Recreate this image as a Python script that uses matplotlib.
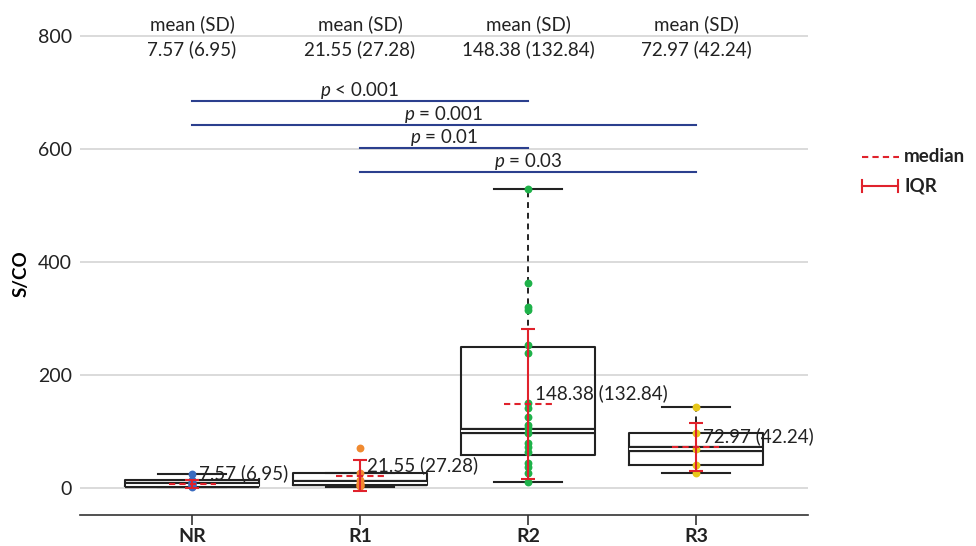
import matplotlib.pyplot as plt
from matplotlib.lines import Line2D

plt.rcParams['font.family'] = ['Lato', 'DejaVu Sans']
plt.rcParams['mathtext.fontset'] = 'custom'
plt.rcParams['mathtext.it'] = 'Lato:italic'
plt.rcParams['mathtext.rm'] = 'Lato'

groups = ['NR', 'R1', 'R2', 'R3']
means = [7.57, 21.55, 148.38, 72.97]
sds = [6.95, 27.28, 132.84, 42.24]

# box stats
whislo = [1.7, 1.5, 11, 27]
q1 = [3.5, 5, 58, 41]
med = [5, 8, 101, 68]
q3 = [14, 26.5, 250, 97]
whishi = [25, 26.5, 529, 143]

pts_nr = [25, 14, 11, 9, 7, 6, 5, 4, 3, 2]
pts_r1 = [71, 26, 14, 9, 7, 5, 4, 3]
pts_r2 = [529, 362, 320, 315, 252, 238, 150, 141, 126, 112, 106, 97, 80, 73,
          64, 44, 37, 27, 11]
pts_r3 = [143, 97, 68, 41, 27]
points = [pts_nr, pts_r1, pts_r2, pts_r3]
pt_colors = ['#3b6cc0', '#f08a30', '#1fb24a', '#e6c619']

# pairwise tests: (from, to, y, label)
pairs = [(0, 2, 685, '$p$ < 0.001'),
         (0, 3, 642, '$p$ = 0.001'),
         (1, 2, 602, '$p$ = 0.01'),
         (1, 3, 559, '$p$ = 0.03')]

RED = '#e0222c'
BLUE = '#2b3f8e'
TXT = '#222222'
FS = 13.5

fig = plt.figure(figsize=(9.76, 5.46), dpi=100)
ax = fig.add_axes([80/976, 1-515/546, 728/976, (515-33)/546])
x = list(range(len(groups)))

stats = []
for i in x:
    stats.append(dict(whislo=whislo[i], q1=q1[i], med=med[i], q3=q3[i],
                      whishi=whishi[i], fliers=[]))
ax.bxp(stats, positions=x, widths=0.8, capwidths=0.4, showfliers=False,
       boxprops=dict(color=TXT, lw=1.5),
       whiskerprops=dict(color=TXT, lw=1.4, ls=(0, (3, 2.5))),
       capprops=dict(color=TXT, lw=1.5),
       medianprops=dict(color=TXT, lw=4.5))
# white gap inside the median line
for i in x:
    ax.plot([i-0.39, i+0.39], [med[i], med[i]], color='white', lw=1.4, zorder=3)

for i in x:
    ax.scatter([i]*len(points[i]), points[i], s=32, color=pt_colors[i],
               zorder=4, linewidths=0)

ax.errorbar(x, means, yerr=sds, fmt='none', ecolor=RED, elinewidth=1.5,
            capsize=5, capthick=1.5, zorder=5)
for i in x:
    ax.plot([i-0.14, i+0.14], [means[i], means[i]], color=RED, lw=1.5,
            ls=(0, (3, 2)), zorder=5)
    ax.annotate(f'{means[i]:.2f} ({sds[i]:.2f})', (i, means[i]),
                xytext=(5, 1), textcoords='offset points', ha='left',
                va='bottom', fontsize=FS, color=TXT, zorder=6)

# header mean (SD)
for i in x:
    ax.annotate('mean (SD)', (i, 800), xytext=(0, 2), textcoords='offset points',
                ha='center', va='bottom', fontsize=FS, color=TXT,
                annotation_clip=False)
    ax.annotate(f'{means[i]:.2f} ({sds[i]:.2f})', (i, 800), xytext=(0, -3),
                textcoords='offset points', ha='center', va='top',
                fontsize=FS, color=TXT, annotation_clip=False)

for a, b, yv, lab in pairs:
    ax.plot([a, b], [yv, yv], color=BLUE, lw=1.5, zorder=2)
    ax.annotate(lab, ((a+b)/2, yv), xytext=(0, 0), textcoords='offset points',
                ha='center', va='bottom', fontsize=FS, color=TXT)

ax.set_xlim(-0.667, 3.667)
ax.set_ylim(-48, 805)
ax.set_yticks([0, 200, 400, 600, 800])
ax.set_xticks(x)
ax.set_xticklabels(groups, fontsize=14, fontweight='bold')
ax.tick_params(axis='y', length=0, labelsize=14, pad=6, colors=TXT)
ax.tick_params(axis='x', length=7, width=1.2, color='#333333', pad=2,
               labelcolor=TXT)
ax.grid(axis='y', color='#d4d4d4', lw=1.2)
ax.set_axisbelow(True)
for s in ['top', 'right', 'left']:
    ax.spines[s].set_visible(False)
ax.spines['bottom'].set_color('#333333')
ax.spines['bottom'].set_linewidth(1.2)
ax.set_ylabel('S/CO', fontsize=FS, fontweight='bold', labelpad=6)

# legend drawn by hand
fig.add_artist(Line2D([862/976, 899/976], [1-157/546]*2, color=RED, lw=1.5,
                      ls=(0, (3, 2))))
fig.text(904/976, 1-157/546, 'median', fontsize=FS, fontweight='bold',
         va='center', color=TXT)
yl = 1-186/546
fig.add_artist(Line2D([862/976, 898/976], [yl, yl], color=RED, lw=1.5))
for xe in [862/976, 898/976]:
    fig.add_artist(Line2D([xe, xe], [yl-6/546, yl+6/546], color=RED, lw=1.5))
fig.text(904/976, yl, 'IQR', fontsize=FS, fontweight='bold', va='center',
         color=TXT)

fig.savefig('out.png', dpi=100)
